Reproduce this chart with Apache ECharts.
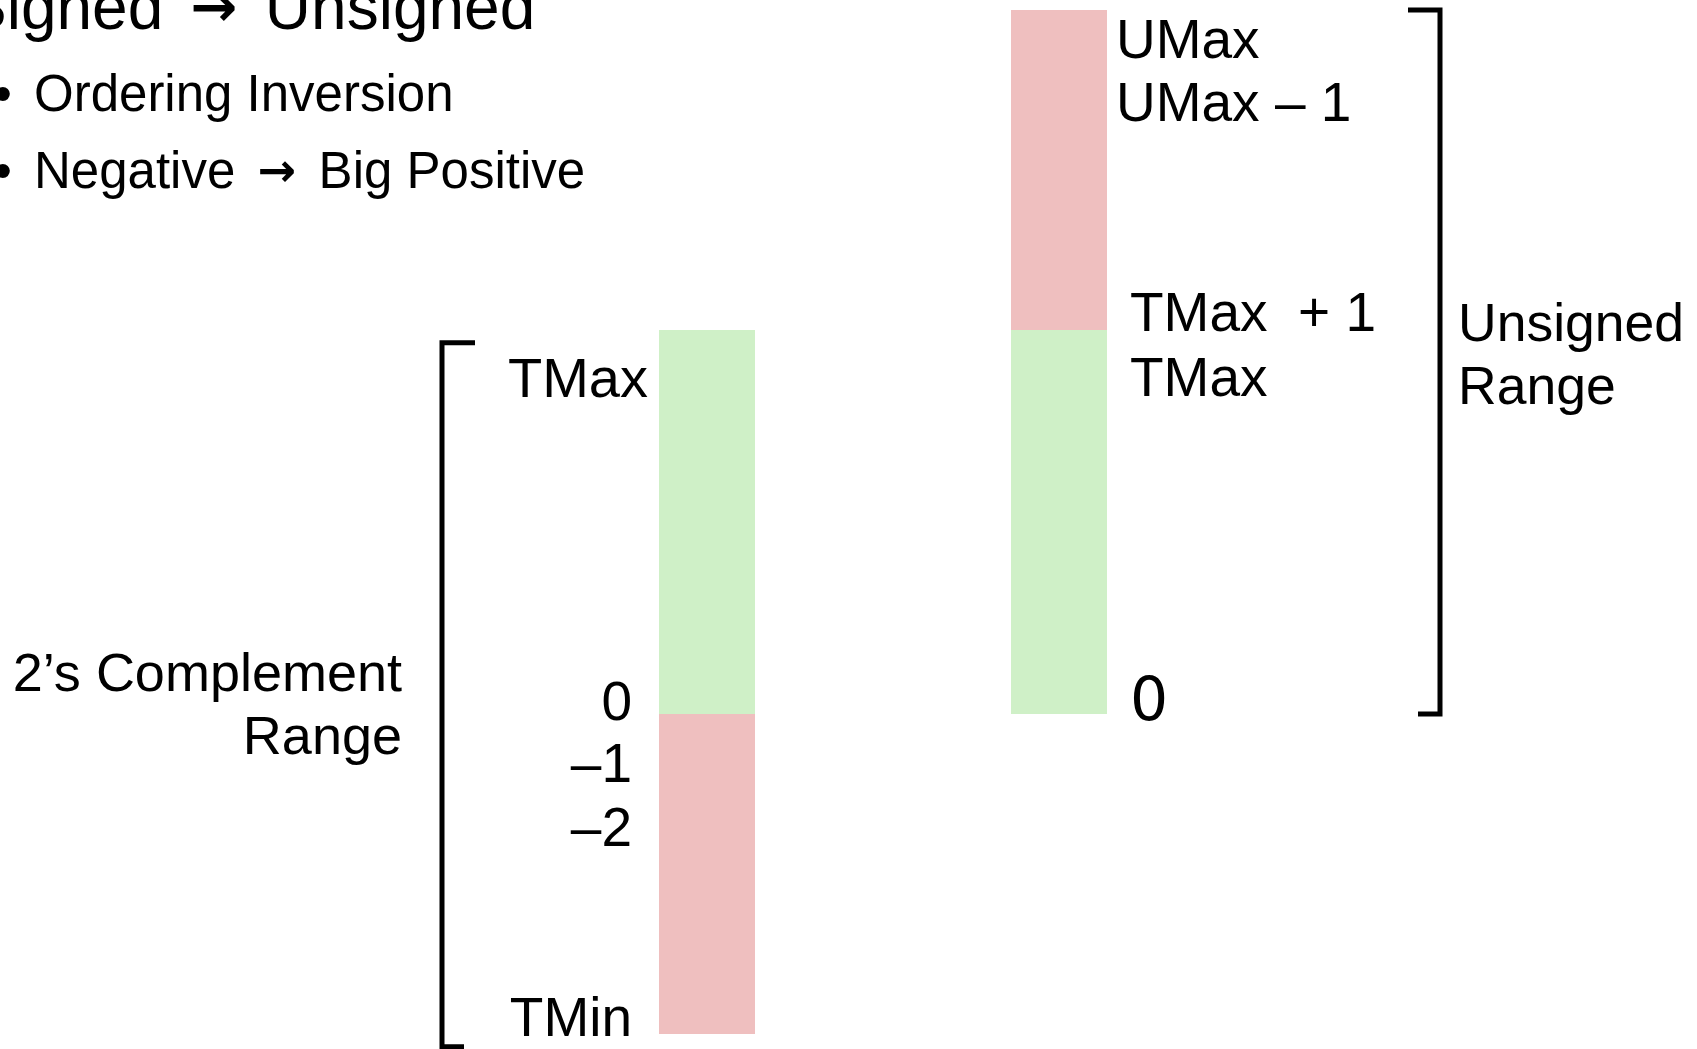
<!DOCTYPE html>
<html>
<head>
<meta charset="utf-8">
<script src="https://cdn.jsdelivr.net/npm/echarts@6/dist/echarts.min.js"></script>
<style>
html,body{margin:0;padding:0;background:#fff;}
#chart{width:1697px;height:1049px;}
</style>
</head>
<body>
<div id="chart"></div>
<script>
// ---- data ----
const categories = ['2\u2019s Complement', 'Unsigned'];
const nonNegativeSpan = [6, 6];   // 0 .. TMax (green)
const wrappedSpan = [-5, 5];      // negatives (signed) / TMax+1 .. UMax (unsigned)
const leftTickLabels = ['TMax', '0', '\u20131', '\u20132', 'TMin'];
const leftTickValues = [5.2, 0.15, -0.82, -1.82, -4.8];
const rightTickLabels = ['UMax', 'UMax \u2013 1', 'TMax  + 1', 'TMax', '0'];
const rightTickValues = [10.48, 9.5, 6.22, 5.2, 0.15];
const titleParts = ['Signed', 'Unsigned'];
const bulletItems = [['Ordering Inversion'], ['Negative', 'Big Positive']];
const leftRangeLabel = ['2\u2019s Complement', 'Range'];
const rightRangeLabel = ['Unsigned', 'Range'];
const leftBracketRange = [5.8, -5.2];
const rightBracketRange = [11, 0];

const FONT = '"Liberation Sans", Helvetica, Arial, sans-serif';
const ARROW_FONT = '"DejaVu Sans", sans-serif';
const GREEN = '#cff0c7';
const PINK = '#efbfbf';

const chart = echarts.init(document.getElementById('chart'), null, {renderer: 'canvas'});
chart.setOption({
  animation: false,
  backgroundColor: '#ffffff',
  grid: {left: 531, width: 704, top: 10, bottom: 15},
  xAxis: {type: 'category', data: categories, show: false},
  yAxis: {type: 'value', min: -5, max: 11, show: false, splitLine: {show: false}},
  series: [
    {name: 'Non-negative', type: 'bar', stack: 'r', barWidth: 96, data: nonNegativeSpan,
     itemStyle: {color: GREEN}},
    {name: 'Wrapped', type: 'bar', stack: 'r', barWidth: 96, data: wrappedSpan,
     itemStyle: {color: PINK}}
  ]
});

function py(v) { return chart.convertToPixel({yAxisIndex: 0}, v); }
function txt(text, x, y, size, align, family) {
  return {
    type: 'text', x: x, y: y, silent: true,
    style: {
      text: text, fill: '#000',
      font: 'normal ' + size + 'px ' + (family || FONT),
      textAlign: align, textVerticalAlign: 'middle'
    }
  };
}
// text with an arrow between parts
function arrowTxt(parts, x, y, size, arrowSize, arrowWidth) {
  if (parts.length === 1) return txt(parts[0], x, y, size, 'left');
  const text = '{t|' + parts[0] + ' }{a|\u2192}{t| ' + parts[1] + '}';
  return {
    type: 'text', x: x, y: y, silent: true,
    style: {
      text: text, fill: '#000', textAlign: 'left', textVerticalAlign: 'middle',
      rich: {
        t: {fontFamily: FONT, fontSize: size, fill: '#000', verticalAlign: 'middle'},
        a: {fontFamily: ARROW_FONT, fontWeight: 'bold', fontSize: arrowSize, fill: '#000',
            width: arrowWidth, align: 'center', verticalAlign: 'middle'}
      }
    }
  };
}

const g = [];
// title & bullets
g.push(arrowTxt(titleParts, -36, 11, 64, 56, 66));
bulletItems.forEach((parts, i) => {
  const y = [97, 174][i];
  g.push(txt('\u2022', -6, y, 51, 'left'));
  g.push(arrowTxt(parts, 34, y, 51, 46, 55));
});
// left tick labels
leftTickLabels.forEach((t, i) => {
  const big = (t === 'TMax');
  g.push(txt(t, big ? 648 : 632, py(leftTickValues[i]), big ? 56 : 55, 'right'));
});
// right tick labels
rightTickLabels.forEach((t, i) => {
  const x = i >= 2 ? 1130 : 1116;
  if (t === '0') {
    g.push(txt(t, x, py(rightTickValues[i]), 60, 'left', '"DejaVu Sans", sans-serif'));
  } else {
    g.push(txt(t, x, py(rightTickValues[i]), 55, 'left'));
  }
});
// range labels
g.push(txt(leftRangeLabel[0], 402, 676, 54, 'right'));
g.push(txt(leftRangeLabel[1], 402, 739, 54, 'right'));
g.push(txt(rightRangeLabel[0], 1458, 326, 53.5, 'left'));
g.push(txt(rightRangeLabel[1], 1458, 389, 53.5, 'left'));
// brackets
const lt = py(leftBracketRange[0]), lb = py(leftBracketRange[1]);
g.push({type: 'polyline', silent: true,
  shape: {points: [[475, lt], [442, lt], [442, lb], [464, lb]]},
  style: {stroke: '#000', lineWidth: 5, fill: null, lineJoin: 'miter'}});
const rt = py(rightBracketRange[0]), rb = py(rightBracketRange[1]);
g.push({type: 'polyline', silent: true,
  shape: {points: [[1408, rt], [1440, rt], [1440, rb], [1418, rb]]},
  style: {stroke: '#000', lineWidth: 5, fill: null, lineJoin: 'miter'}});

chart.setOption({graphic: {elements: g}});
</script>
</body>
</html>
